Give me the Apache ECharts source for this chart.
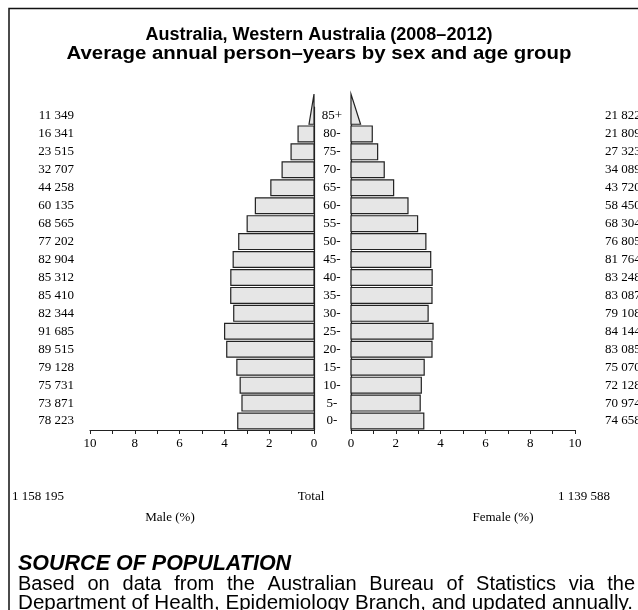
<!DOCTYPE html>
<html><head><meta charset="utf-8">
<script src="https://cdn.jsdelivr.net/npm/echarts@6/dist/echarts.min.js"></script>
<style>html,body{margin:0;padding:0;background:#fff}#c{width:638px;height:610px}</style>
</head><body><div id="c"></div>
<script>
const ageGroups = ['0-','5-','10-','15-','20-','25-','30-','35-','40-','45-','50-','55-','60-','65-','70-','75-','80-','85+'];
const maleCounts = [78223,73871,75731,79128,89515,91685,82344,85410,85312,82904,77202,68565,60135,44258,32707,23515,16341,11349];
const femaleCounts = [74658,70974,72128,75070,83085,84144,79108,83087,83248,81764,76805,68304,58450,43720,34089,27323,21809,21822];
const maleTotal = 1158195;
const femaleTotal = 1139588;
const axisTicks = [0,2,4,6,8,10];

const grand = maleTotal + femaleTotal;
const fmt = n => String(n).replace(/\B(?=(\d{3})+(?!\d))/g, ' ');
const malePct = maleCounts.map((v,i) => [v / grand * 100, i]);
const femalePct = femaleCounts.map((v,i) => [v / grand * 100, i]);

const SERIF = '"Liberation Serif","Times New Roman",serif';
const SANS = '"Liberation Sans",Arial,Helvetica,sans-serif';

function renderBar(params, api) {
  const idx = api.value(1);
  const pct = api.value(0);
  const c0 = api.coord([0, idx]);
  const band = api.size([0, 1])[1];
  const style = {fill: '#e6e6e6', stroke: '#222', lineWidth: 1.2};
  if (idx === ageGroups.length - 1) {
    const c1 = api.coord([pct * 0.45, idx]);
    const yb = c0[1] + band * 0.46;
    const yt = yb - band * 1.68;
    return {type: 'polygon', shape: {points: [[c0[0], yb], [c1[0], yb], [c0[0], yt]]}, style};
  }
  const c1 = api.coord([pct, idx]);
  const h = band * 0.88;
  const x = Math.min(c0[0], c1[0]);
  return {type: 'rect', shape: {x: x, y: c0[1] - h / 2, width: Math.abs(c1[0] - c0[0]), height: h}, style};
}

const xAxisCommon = {
  type: 'value', min: 0, max: 10, interval: 2,
  axisLine: {show: true, lineStyle: {color: '#222', width: 1.2}},
  axisTick: {show: true, length: 4, lineStyle: {color: '#222'}},
  minorTick: {show: true, splitNumber: 2, length: 4, lineStyle: {color: '#222'}},
  splitLine: {show: false},
  axisLabel: {color: '#000', fontFamily: SERIF, fontSize: 13, margin: 7,
    formatter: v => axisTicks.includes(v) ? String(v) : ''}
};

const ctx = document.createElement('canvas').getContext('2d');
function measure(text, font) { ctx.font = font; return ctx.measureText(text).width; }

const title1 = 'Australia, Western Australia (2008–2012)';
const title2 = 'Average annual person–years by sex and age group';
const titleFont = 'bold 18px ' + SANS;
const title2Scale = 505 / measure(title2, titleFont);

const srcHead = 'SOURCE OF POPULATION';
const line1 = 'Based on data from the Australian Bureau of Statistics via the';
const line2 = 'Department of Health, Epidemiology Branch, and updated annually.';
const bodyFont = '20px ' + SANS;
const line2Scale = 615 / measure(line2, bodyFont);

function justify(text, font, x0, x1, y) {
  ctx.font = font;
  const words = text.split(' ');
  const widths = words.map(w => ctx.measureText(w).width);
  const sum = widths.reduce((a,b) => a + b, 0);
  const gap = (x1 - x0 - sum) / (words.length - 1);
  let x = x0;
  return words.map((w, i) => {
    const el = {type: 'text', x: x, y: y, style: {text: w, font: font, fill: '#000', align: 'left', verticalAlign: 'middle'}};
    x += widths[i] + gap;
    return el;
  });
}

const graphic = [
  {type: 'polyline', shape: {points: [[9, 612], [9, 8.5], [640, 8.5]]}, style: {stroke: '#111', lineWidth: 1.5, fill: null}},
  {type: 'text', x: 319, y: 35, style: {text: title1, font: titleFont, fill: '#000', align: 'center', verticalAlign: 'middle'}},
  {type: 'text', x: 319, y: 54, scaleX: title2Scale, style: {text: title2, font: titleFont, fill: '#000', align: 'center', verticalAlign: 'middle'}},
  {type: 'text', x: 12, y: 497, style: {text: fmt(maleTotal), font: '13px ' + SERIF, fill: '#000', align: 'left', verticalAlign: 'middle'}},
  {type: 'text', x: 311, y: 497, style: {text: 'Total', font: '13px ' + SERIF, fill: '#000', align: 'center', verticalAlign: 'middle'}},
  {type: 'text', x: 610, y: 497, style: {text: fmt(femaleTotal), font: '13px ' + SERIF, fill: '#000', align: 'right', verticalAlign: 'middle'}},
  {type: 'text', x: 170, y: 518, style: {text: 'Male (%)', font: '13px ' + SERIF, fill: '#000', align: 'center', verticalAlign: 'middle'}},
  {type: 'text', x: 503, y: 518, style: {text: 'Female (%)', font: '13px ' + SERIF, fill: '#000', align: 'center', verticalAlign: 'middle'}},
  {type: 'text', x: 18, y: 564, style: {text: srcHead, font: 'italic bold 21.5px ' + SANS, fill: '#000', align: 'left', verticalAlign: 'middle'}},
  {type: 'text', x: 18, y: 603, scaleX: line2Scale, style: {text: line2, font: bodyFont, fill: '#000', align: 'left', verticalAlign: 'middle'}}
].concat(
  justify(line1, bodyFont, 18, 635, 584)
);

const chart = echarts.init(document.getElementById('c'), null, {renderer: 'canvas'});
chart.setOption({
  animation: false,
  backgroundColor: '#fff',
  grid: [
    {left: 90, width: 224, top: 107, height: 323, outerBoundsMode: 'none', containLabel: false},
    {left: 351, width: 224, top: 107, height: 323, outerBoundsMode: 'none', containLabel: false}
  ],
  xAxis: [
    Object.assign({gridIndex: 0, inverse: true}, xAxisCommon),
    Object.assign({gridIndex: 1}, xAxisCommon)
  ],
  yAxis: [
    {gridIndex: 0, type: 'category', data: ageGroups, position: 'right',
      axisLine: {show: true, onZero: false, lineStyle: {color: '#222', width: 1.2}},
      axisTick: {show: false}, axisLabel: {show: false}},
    {gridIndex: 0, type: 'category', data: maleCounts.map(fmt), position: 'left',
      axisLine: {show: false}, axisTick: {show: false},
      axisLabel: {color: '#000', fontFamily: SERIF, fontSize: 13, margin: 16, align: 'right'}},
    {gridIndex: 1, type: 'category', data: ageGroups, position: 'left',
      axisLine: {show: true, onZero: false, lineStyle: {color: '#222', width: 1.2}},
      axisTick: {show: false},
      axisLabel: {color: '#000', fontFamily: SERIF, fontSize: 13, margin: 19, align: 'center'}},
    {gridIndex: 1, type: 'category', data: femaleCounts.map(fmt), position: 'right',
      axisLine: {show: false}, axisTick: {show: false},
      axisLabel: {color: '#000', fontFamily: SERIF, fontSize: 13, margin: 30, align: 'left'}}
  ],
  series: [
    {type: 'custom', name: 'Male', xAxisIndex: 0, yAxisIndex: 0, data: malePct, encode: {x: 0, y: 1}, renderItem: renderBar, clip: false},
    {type: 'custom', name: 'Female', xAxisIndex: 1, yAxisIndex: 2, data: femalePct, encode: {x: 0, y: 1}, renderItem: renderBar, clip: false}
  ],
  graphic: graphic
});
</script></body></html>
